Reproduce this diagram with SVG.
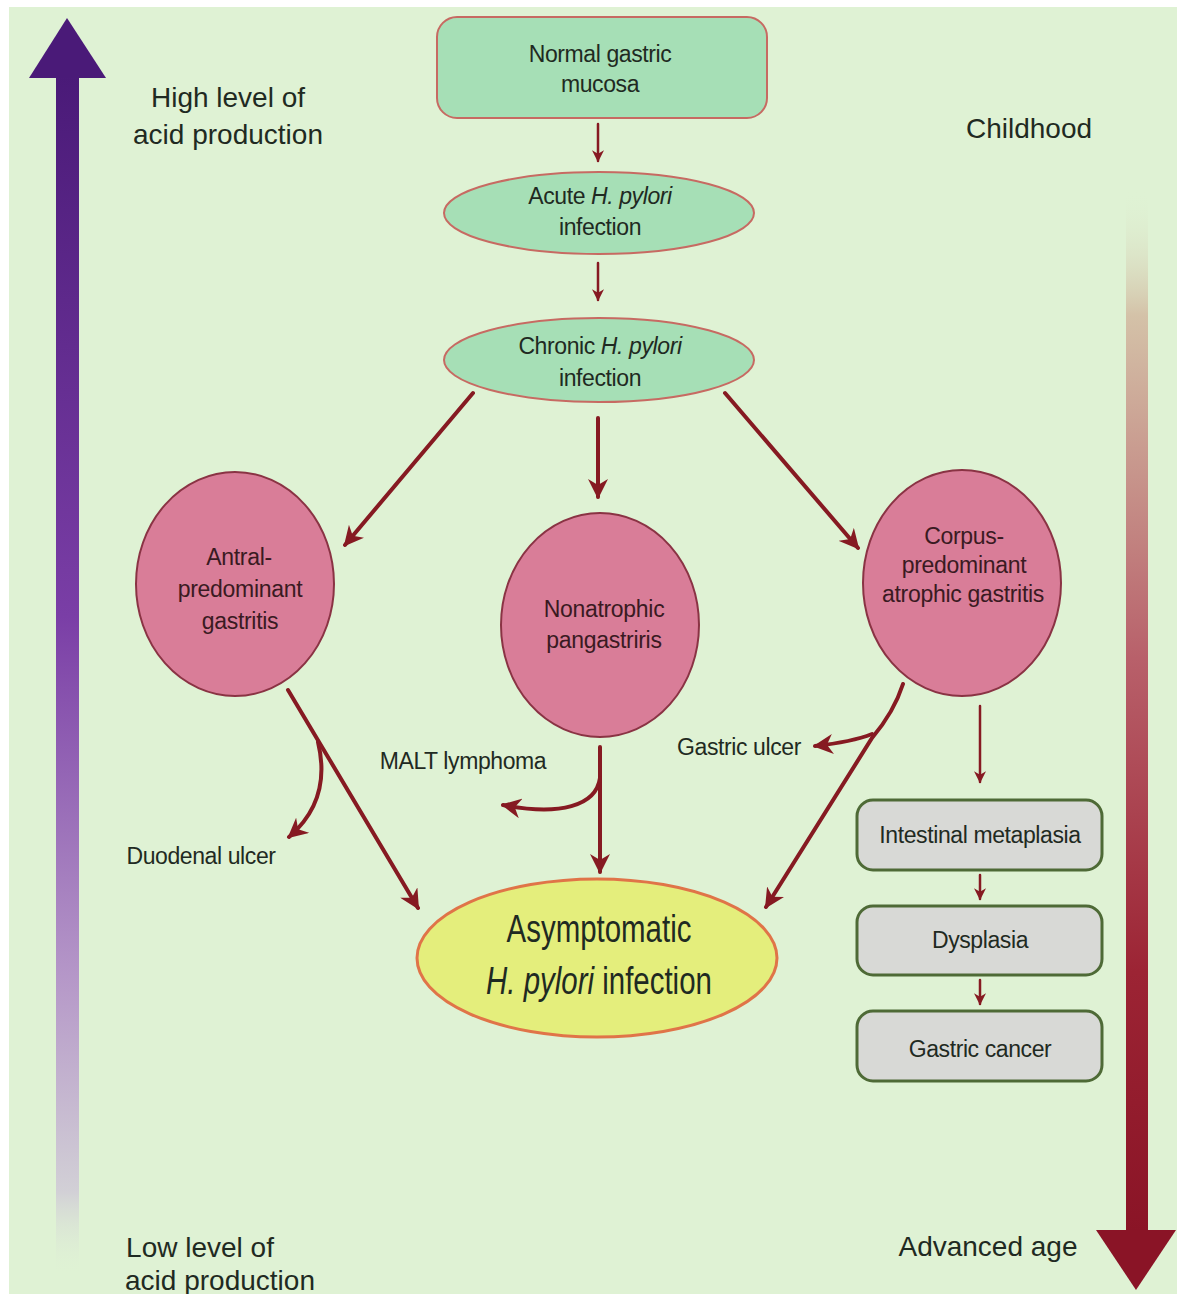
<svg xmlns="http://www.w3.org/2000/svg" width="1177" height="1294" viewBox="0 0 1177 1294">
  <defs>
    <linearGradient id="gLeft" x1="0" y1="0" x2="0" y2="1">
      <stop offset="0" stop-color="#4a1a78"/>
      <stop offset="0.45" stop-color="#7a3ea6"/>
      <stop offset="0.75" stop-color="#b597c8"/>
      <stop offset="0.93" stop-color="#d2d0d6"/>
      <stop offset="1" stop-color="#dff2d4" stop-opacity="0"/>
    </linearGradient>
    <linearGradient id="gRight" x1="0" y1="0" x2="0" y2="1">
      <stop offset="0" stop-color="#dff2d4" stop-opacity="0"/>
      <stop offset="0.12" stop-color="#d4c2a8"/>
      <stop offset="0.45" stop-color="#b8606a"/>
      <stop offset="0.75" stop-color="#9c2434"/>
      <stop offset="1" stop-color="#8a1426"/>
    </linearGradient>
    <marker id="ah" viewBox="0 0 10 10" refX="9" refY="5" markerWidth="20" markerHeight="20" markerUnits="userSpaceOnUse" orient="auto">
      <path d="M0,0 L10,5 L0,10 L3,5 z" fill="#861a22"/>
    </marker>
    <marker id="ahs" viewBox="0 0 10 10" refX="9" refY="5" markerWidth="12" markerHeight="12" markerUnits="userSpaceOnUse" orient="auto">
      <path d="M0,0 L10,5 L0,10 L3,5 z" fill="#861a22"/>
    </marker>
    <style>
      .t { font-family: "Liberation Sans", Arial, sans-serif; fill: #1f2a22; text-anchor: middle; }
      .lbl { font-size: 28px; }
      .nd { font-size: 23px; letter-spacing: -0.4px; }
      .pk { font-size: 23px; letter-spacing: -0.3px; fill: #3a1a22; }
      .big-t { font-size: 38px; }
      .gr { fill: #a6dfb6; stroke: #c76a62; stroke-width: 2; }
      .pink { fill: #d97d98; stroke: #8a3344; stroke-width: 2; }
      .gray { fill: #d8d9d6; stroke: #4e6a36; stroke-width: 3; }
      .c { fill: none; stroke: #861a22; stroke-linecap: round; }
      .big { stroke-width: 4; marker-end: url(#ah); }
      .sm { stroke-width: 2.5; marker-end: url(#ahs); }
    </style>
  </defs>

  <rect x="0" y="0" width="1177" height="1294" fill="#ffffff"/>
  <rect x="9" y="7" width="1168" height="1287" fill="#dff2d4"/>

  <!-- side arrows -->
  <g id="acid-arrow">
    <rect x="56" y="76" width="23" height="1200" fill="url(#gLeft)"/>
    <polygon points="67,18 106,78 29,78" fill="#4a1a78"/>
  </g>
  <g id="age-arrow">
    <rect x="1126" y="190" width="22" height="1042" fill="url(#gRight)"/>
    <polygon points="1096,1230 1176,1230 1136,1290" fill="#8a1426"/>
  </g>

  <!-- side labels -->
  <text class="t lbl" x="228" y="107">High level of</text>
  <text class="t lbl" x="228" y="144">acid production</text>
  <text class="t lbl" x="1029" y="138" font-size="27">Childhood</text>
  <text class="t lbl" x="200" y="1257">Low level of</text>
  <text class="t lbl" x="220" y="1290">acid production</text>
  <text class="t lbl" x="988" y="1256">Advanced age</text>

  <!-- connectors -->
  <g id="connectors">
    <line class="c sm" x1="598" y1="124" x2="598" y2="161"/>
    <line class="c sm" x1="598" y1="263" x2="598" y2="300"/>
    <line class="c big" x1="473" y1="393" x2="345" y2="545"/>
    <line class="c big" x1="598" y1="418" x2="598" y2="497"/>
    <line class="c big" x1="725" y1="393" x2="858" y2="548"/>
    <line class="c big" x1="288" y1="690" x2="418" y2="908"/>
    <path class="c big" d="M318,742 Q332,800 289,837"/>
    <line class="c big" x1="600" y1="747" x2="600" y2="872"/>
    <path class="c big" d="M600,778 C596,806 560,816 503,805"/>
    <path class="c big" d="M903,684 Q894,712 872,738 L766,907"/>
    <path class="c big" d="M872,734 Q852,742 815,746"/>
    <line class="c sm" x1="980" y1="706" x2="980" y2="782"/>
    <line class="c sm" x1="980" y1="875" x2="980" y2="899"/>
    <line class="c sm" x1="980" y1="980" x2="980" y2="1004"/>
  </g>

  <!-- nodes -->
  <g id="normal">
    <rect class="gr" x="437" y="17" width="330" height="101" rx="20"/>
    <text class="t nd" x="600" y="62">Normal gastric</text>
    <text class="t nd" x="600" y="92">mucosa</text>
  </g>
  <g id="acute">
    <ellipse class="gr" cx="599" cy="213" rx="155" ry="41"/>
    <text class="t nd" x="600" y="204">Acute <tspan font-style="italic">H. pylori</tspan></text>
    <text class="t nd" x="600" y="235">infection</text>
  </g>
  <g id="chronic">
    <ellipse class="gr" cx="599" cy="360" rx="155" ry="42"/>
    <text class="t nd" x="600" y="354">Chronic <tspan font-style="italic">H. pylori</tspan></text>
    <text class="t nd" x="600" y="386">infection</text>
  </g>
  <g id="antral">
    <ellipse class="pink" cx="235" cy="584" rx="99" ry="112"/>
    <text class="t pk" x="239" y="565">Antral-</text>
    <text class="t pk" x="240" y="597">predominant</text>
    <text class="t pk" x="240" y="629">gastritis</text>
  </g>
  <g id="nonatrophic">
    <ellipse class="pink" cx="600" cy="625" rx="99" ry="112"/>
    <text class="t pk" x="604" y="617">Nonatrophic</text>
    <text class="t pk" x="604" y="648">pangastriris</text>
  </g>
  <g id="corpus">
    <ellipse class="pink" cx="962" cy="583" rx="99" ry="113"/>
    <text class="t pk" x="964" y="544">Corpus-</text>
    <text class="t pk" x="964" y="573">predominant</text>
    <text class="t pk" x="963" y="602">atrophic gastritis</text>
  </g>
  <g id="asymptomatic">
    <ellipse cx="597" cy="958" rx="180" ry="79" fill="#e4ee7c" stroke="#e07448" stroke-width="3"/>
    <g transform="translate(599,0) scale(0.775,1)">
      <text class="t big-t" x="0" y="942">Asymptomatic</text>
      <text class="t big-t" x="0" y="994"><tspan font-style="italic">H. pylori</tspan> infection</text>
    </g>
  </g>
  <g id="intestinal">
    <rect class="gray" x="857" y="800" width="245" height="70" rx="16"/>
    <text class="t nd" x="980" y="843">Intestinal metaplasia</text>
  </g>
  <g id="dysplasia">
    <rect class="gray" x="857" y="906" width="245" height="69" rx="16"/>
    <text class="t nd" x="980" y="948">Dysplasia</text>
  </g>
  <g id="cancer">
    <rect class="gray" x="857" y="1011" width="245" height="70" rx="16"/>
    <text class="t nd" x="980" y="1057">Gastric cancer</text>
  </g>

  <!-- branch labels -->
  <text class="t nd" x="201" y="864">Duodenal ulcer</text>
  <text class="t nd" x="463" y="769">MALT lymphoma</text>
  <text class="t nd" x="739" y="755">Gastric ulcer</text>
</svg>
